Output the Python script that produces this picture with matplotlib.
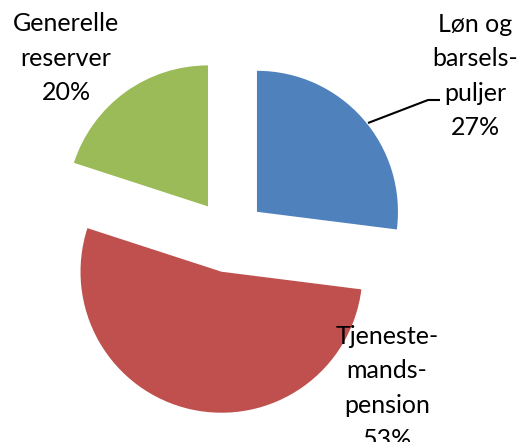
import matplotlib
matplotlib.use("Agg")
import matplotlib.pyplot as plt

categories = ["Løn og\nbarsels-\npuljer", "Tjeneste-\nmands-\npension", "Generelle\nreserver"]
values = [27, 53, 20]
colors = ["#4F81BD", "#C0504D", "#9BBB59"]

W, H = 517, 442
fig = plt.figure(figsize=(W / 100, H / 100), dpi=100)
ax = fig.add_axes([0, 0, 1, 1])

cx, cy, r = 229.5, H - 236, 141
gap = 36.6
ax.pie(values, colors=colors, startangle=90, counterclock=False,
       explode=[gap, gap, gap], radius=r, center=(cx, cy), frame=True,
       wedgeprops=dict(linewidth=0))
ax.set_xlim(0, W)
ax.set_ylim(0, H)
ax.set_aspect("equal")
ax.axis("off")

font = dict(family=["Lato", "DejaVu Sans"], fontsize=18, color="black",
            ha="center", va="center", linespacing=1.6)
labels = [f"{c}\n{v}%" for c, v in zip(categories, values)]
ax.text(475, H - 76, labels[0], **font)
ax.text(387, H - 388, labels[1], **font)
ax.text(66, H - 58, labels[2], **font)

# leader line for first label
ax.plot([368, 428, 440], [H - 123, H - 100, H - 100], color="black", lw=1.5,
        solid_capstyle="butt")

fig.savefig("out.png", dpi=100)
